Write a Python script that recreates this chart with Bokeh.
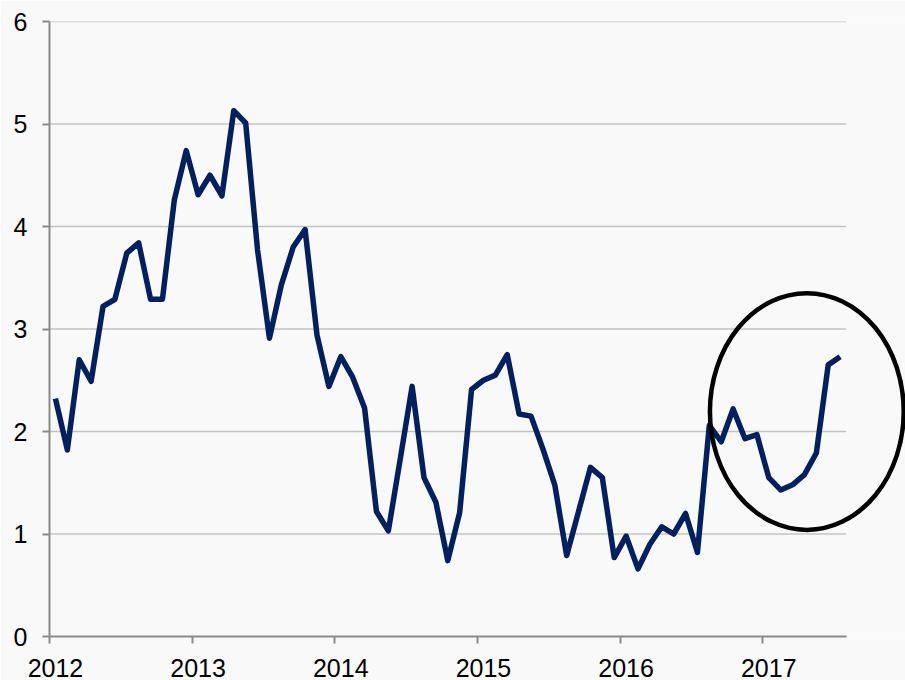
from bokeh.plotting import figure
from bokeh.models import FixedTicker, Range1d
from bokeh.embed import file_html
from bokeh.resources import INLINE

# ---- data (monthly, Jan 2012 .. Jul 2017) ----
start_year = 2012
values = [2.32, 1.82, 2.70, 2.49, 3.22, 3.29, 3.74, 3.84, 3.29, 3.29, 4.26, 4.74,
          4.31, 4.50, 4.30, 5.13, 5.01, 3.77, 2.91, 3.43, 3.80, 3.97, 2.94, 2.44,
          2.73, 2.53, 2.23, 1.22, 1.03, 1.73, 2.44, 1.55, 1.31, 0.74, 1.21, 2.41,
          2.50, 2.55, 2.75, 2.17, 2.15, 1.83, 1.48, 0.79, 1.22, 1.65, 1.55, 0.77,
          0.98, 0.66, 0.90, 1.07, 1.00, 1.20, 0.82, 2.06, 1.90, 2.22, 1.93, 1.97,
          1.55, 1.43, 1.48, 1.58, 1.79, 2.65, 2.73]
year_labels = ["2012", "2013", "2014", "2015", "2016", "2017"]
y_ticks = [0, 1, 2, 3, 4, 5, 6]

# highlight ellipse (months since Jan 2012, value units)
hl_x, hl_y, hl_w, hl_h = 63.7, 2.195, 16.3, 2.31

n = len(values)
months = [i + 0.5 for i in range(n)]
year_pos = [12 * k for k in range(len(year_labels))]

FONT = "Liberation Sans"
BG = "#f9f9f9"

p = figure(width=905, height=680, output_backend="svg", toolbar_location=None,
           x_range=Range1d(0, 72), y_range=Range1d(0, 6),
           min_border_left=49, min_border_right=0, min_border_top=21,
           min_border_bottom=44)
p.background_fill_color = BG
p.border_fill_color = BG
p.outline_line_color = None
p.grid.visible = False

# horizontal gridlines ending at the end of the category axis
p.multi_line(xs=[[0, n] for t in y_ticks[1:]], ys=[[t, t] for t in y_ticks[1:]],
             line_color="#c3c3c3", line_width=1.5, level="underlay")

p.line(months, values, line_color="#002060", line_width=5.5, line_join="round")

p.ellipse(x=[hl_x], y=[hl_y], width=hl_w, height=hl_h, fill_color=None,
          line_color="black", line_width=4.5)

# x axis
xa = p.xaxis[0]
xa.ticker = FixedTicker(ticks=[v + 0.5 for v in year_pos], minor_ticks=year_pos)
xa.major_label_overrides = {v + 0.5: lab for v, lab in zip(year_pos, year_labels)}
xa.bounds = (0, n)
xa.axis_line_color = "#8a8a8a"
xa.axis_line_width = 2
xa.major_tick_line_color = None
xa.minor_tick_line_color = "#8a8a8a"
xa.minor_tick_line_width = 2
xa.minor_tick_out = 7
xa.minor_tick_in = 0
xa.major_label_standoff = 15
xa.major_label_text_font = FONT
xa.major_label_text_font_size = "25px"
xa.major_label_text_color = "black"

# y axis
ya = p.yaxis[0]
ya.ticker = FixedTicker(ticks=y_ticks)
ya.axis_line_color = "#8a8a8a"
ya.axis_line_width = 2
ya.major_tick_line_color = "#8a8a8a"
ya.major_tick_line_width = 2
ya.major_tick_out = 7
ya.major_tick_in = 0
ya.minor_tick_line_color = None
ya.major_label_standoff = 15
ya.major_label_text_font = FONT
ya.major_label_text_font_size = "25px"
ya.major_label_text_color = "black"

open("out.html", "w").write(file_html(p, INLINE))
